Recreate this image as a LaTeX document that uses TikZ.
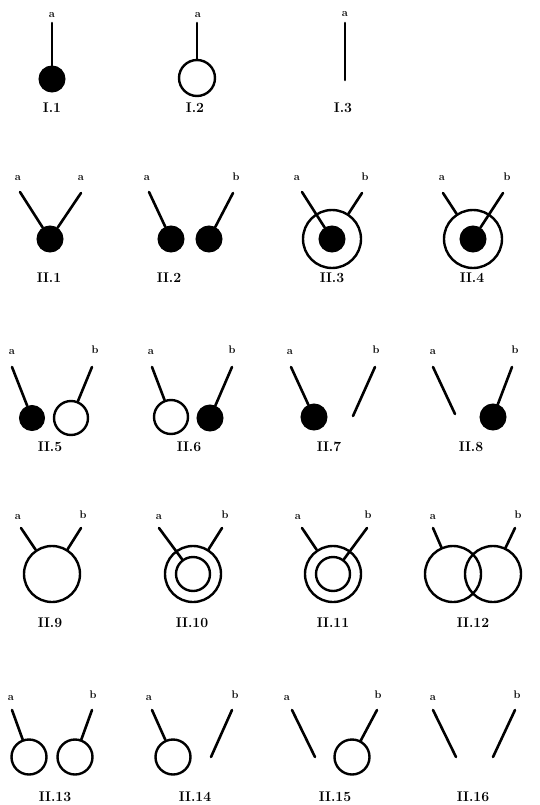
\documentclass[tikz,border=0pt]{standalone}
\begin{document}
\begin{tikzpicture}[x=1pt,y=-1pt,
  lbl/.style={inner sep=0pt,font=\fontsize{11}{11}\selectfont\bfseries},
  num/.style={inner sep=0pt,font=\fontsize{14}{14}\selectfont\bfseries},
  dot/.style={circle,fill=black,draw=black,line width=1pt,inner sep=0pt,minimum size=#1},
  dot/.default=25pt,
  ring/.style={circle,draw=black,line width=2.4pt,inner sep=0pt,minimum size=#1},
  ring/.default=35pt,
  wire/.style={line width=2.6pt,line cap=round}]
\useasboundingbox (0,0) rectangle (539,805);
% ---------- Row I ----------
\node[lbl] (la1) at (52,15) {a};
\coordinate (s1) at (52,23);
\node[dot=26pt] (d1) at (52,79) {};
\draw[wire] (s1) -- (d1);
\node[num] (n1) at (52,108) {I.1};

\node[lbl] (la2) at (198,15) {a};
\coordinate (s2) at (197,23);
\node[ring=36pt] (r2) at (197,78) {};
\draw[wire] (s2) -- (r2);
\node[num] (n2) at (195,108) {I.2};

\node[lbl] (la3) at (345,14) {a};
\coordinate (s3) at (345,23);
\coordinate (e3) at (345,80);
\draw[wire] (s3) -- (e3);
\node[num] (n3) at (343,108) {I.3};
% ---------- Row II.1-4 ----------
\node[lbl] (a21) at (18,178) {a};
\node[lbl] (b21) at (81,178) {a};
\coordinate (sa21) at (20,192);
\coordinate (sb21) at (81,193);
\node[dot=26pt] (d21) at (50,239) {};
\draw[wire] (sa21) -- (d21);
\draw[wire] (sb21) -- (d21);
\node[num] (n21) at (49,278) {II.1};

\node[lbl] (a22) at (147,178) {a};
\node[lbl] (b22) at (236,177) {b};
\coordinate (sa22) at (149,192);
\coordinate (sb22) at (233,193);
\node[dot=26pt] (d22a) at (171,239) {};
\node[dot=26pt] (d22b) at (209,239) {};
\draw[wire] (sa22) -- (d22a);
\draw[wire] (sb22) -- (d22b);
\node[num] (n22) at (169,278) {II.2};

\node[lbl] (a23) at (297,178) {a};
\node[lbl] (b23) at (365,177) {b};
\coordinate (sa23) at (302,192);
\coordinate (sb23) at (362,193);
\node[ring=58pt] (r23) at (332,239) {};
\node[dot=26pt] (d23) at (332,239) {};
\draw[wire] (sa23) -- (d23);
\draw[wire] (sb23) -- (r23);
\node[num] (n23) at (332,278) {II.3};

\node[lbl] (a24) at (442,178) {a};
\node[lbl] (b24) at (507,177) {b};
\coordinate (sa24) at (443,193);
\coordinate (sb24) at (503,193);
\node[ring=58pt] (r24) at (473,239) {};
\node[dot=26pt] (d24) at (473,239) {};
\draw[wire] (sa24) -- (r24);
\draw[wire] (sb24) -- (d24);
\node[num] (n24) at (472,278) {II.4};
% ---------- Row II.5-8 ----------
\node[lbl] (a25) at (12,352) {a};
\node[lbl] (b25) at (95,350) {b};
\coordinate (sa25) at (12,367);
\coordinate (sb25) at (92,367);
\node[dot=25pt] (d25) at (32,418) {};
\node[ring=34pt] (r25) at (71,418) {};
\draw[wire] (sa25) -- (d25);
\draw[wire] (sb25) -- (r25);
\node[num] (n25) at (50,447) {II.5};

\node[lbl] (a26) at (151,352) {a};
\node[lbl] (b26) at (232,350) {b};
\coordinate (sa26) at (152,367);
\coordinate (sb26) at (232,367);
\node[ring=34pt] (r26) at (171,417) {};
\node[dot=26pt] (d26) at (210,418) {};
\draw[wire] (sa26) -- (r26);
\draw[wire] (sb26) -- (d26);
\node[num] (n26) at (189,447) {II.6};

\node[lbl] (a27) at (290,352) {a};
\node[lbl] (b27) at (376,350) {b};
\coordinate (sa27) at (291,367);
\coordinate (sb27) at (375,367);
\node[dot=26pt] (d27) at (314,417) {};
\coordinate (eb27) at (353,416);
\draw[wire] (sa27) -- (d27);
\draw[wire] (sb27) -- (eb27);
\node[num] (n27) at (329,447) {II.7};

\node[lbl] (a28) at (433,352) {a};
\node[lbl] (b28) at (515,350) {b};
\coordinate (sa28) at (433,367);
\coordinate (sb28) at (512,367);
\coordinate (ea28) at (455,414);
\node[dot=26pt] (d28) at (493,417) {};
\draw[wire] (sa28) -- (ea28);
\draw[wire] (sb28) -- (d28);
\node[num] (n28) at (471,447) {II.8};
% ---------- Row II.9-12 ----------
\node[lbl] (a29) at (18,517) {a};
\node[lbl] (b29) at (83,515) {b};
\coordinate (sa29) at (21,528);
\coordinate (sb29) at (81,528);
\node[ring=56pt] (r29) at (52,574) {};
\draw[wire] (sa29) -- (r29);
\draw[wire] (sb29) -- (r29);
\node[num] (n29) at (50,623) {II.9};

\node[lbl] (a210) at (159,517) {a};
\node[lbl] (b210) at (225,515) {b};
\coordinate (sa210) at (159,528);
\coordinate (sb210) at (222,528);
\node[ring=56pt] (ro210) at (193,574) {};
\node[ring=34pt] (ri210) at (193,574) {};
\draw[wire] (sa210) -- (ri210);
\draw[wire] (sb210) -- (ro210);
\node[num] (n210) at (192,623) {II.10};

\node[lbl] (a211) at (298,517) {a};
\node[lbl] (b211) at (368,515) {b};
\coordinate (sa211) at (302,528);
\coordinate (sb211) at (367,528);
\node[ring=56pt] (ro211) at (333,574) {};
\node[ring=34pt] (ri211) at (333,574) {};
\draw[wire] (sa211) -- (ro211);
\draw[wire] (sb211) -- (ri211);
\node[num] (n211) at (333,623) {II.11};

\node[lbl] (a212) at (433,517) {a};
\node[lbl] (b212) at (518,515) {b};
\coordinate (sa212) at (433,528);
\coordinate (sb212) at (515,528);
\node[ring=56pt] (rl212) at (453,574) {};
\node[ring=56pt] (rr212) at (493,574) {};
\draw[wire] (sa212) -- (rl212);
\draw[wire] (sb212) -- (rr212);
\node[num] (n212) at (473,623) {II.12};
% ---------- Row II.13-16 ----------
\node[lbl] (a213) at (11,698) {a};
\node[lbl] (b213) at (93,695) {b};
\coordinate (sa213) at (12,710);
\coordinate (sb213) at (92,710);
\node[ring=35pt] (rl213) at (29,757) {};
\node[ring=35pt] (rr213) at (75,757) {};
\draw[wire] (sa213) -- (rl213);
\draw[wire] (sb213) -- (rr213);
\node[num] (n213) at (55,797) {II.13};

\node[lbl] (a214) at (149,698) {a};
\node[lbl] (b214) at (235,695) {b};
\coordinate (sa214) at (152,710);
\coordinate (sb214) at (232,710);
\node[ring=35pt] (r214) at (173,757) {};
\coordinate (eb214) at (211,757);
\draw[wire] (sa214) -- (r214);
\draw[wire] (sb214) -- (eb214);
\node[num] (n214) at (195,797) {II.14};

\node[lbl] (a215) at (287,698) {a};
\node[lbl] (b215) at (378,695) {b};
\coordinate (sa215) at (292,710);
\coordinate (sb215) at (377,710);
\coordinate (ea215) at (315,757);
\node[ring=35pt] (r215) at (352,757) {};
\draw[wire] (sa215) -- (ea215);
\draw[wire] (sb215) -- (r215);
\node[num] (n215) at (335,797) {II.15};

\node[lbl] (a216) at (433,698) {a};
\node[lbl] (b216) at (517,695) {b};
\coordinate (sa216) at (433,710);
\coordinate (sb216) at (515,710);
\coordinate (ea216) at (456,757);
\coordinate (eb216) at (493,757);
\draw[wire] (sa216) -- (ea216);
\draw[wire] (sb216) -- (eb216);
\node[num] (n216) at (473,797) {II.16};
\end{tikzpicture}
\end{document}
